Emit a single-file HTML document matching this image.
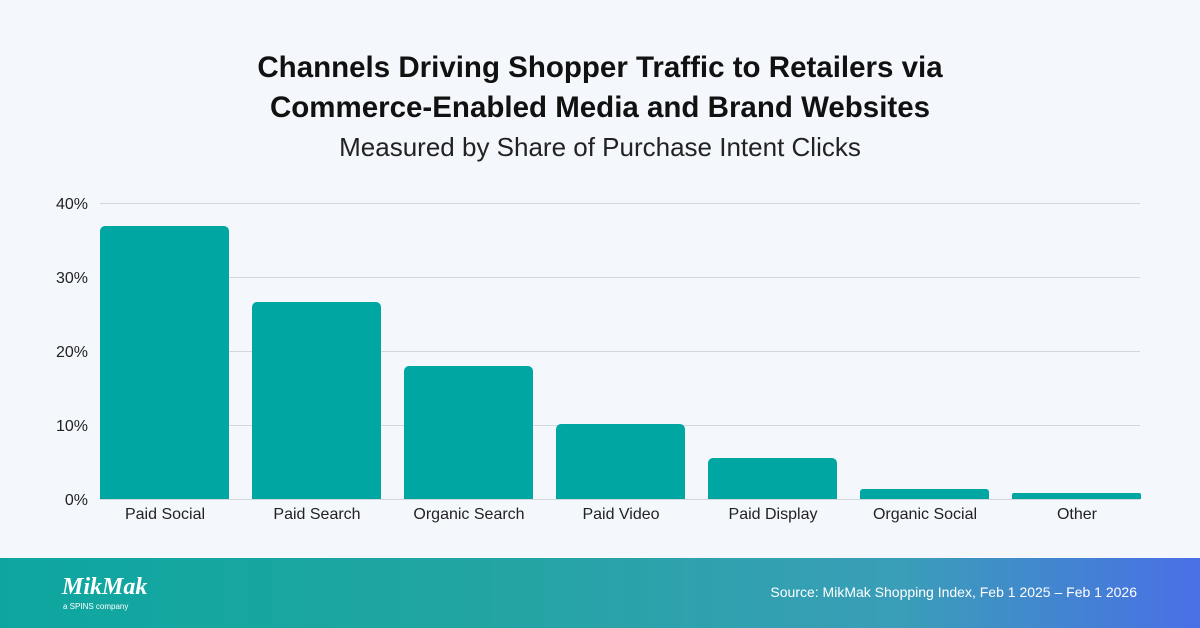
<!DOCTYPE html>
<html><head><style>
body{margin:0;width:1200px;height:628px;background:#f4f8fc;font-family:"Liberation Sans",sans-serif;position:relative;overflow:hidden;color:#111}
.t{position:absolute;left:0;width:1200px;text-align:center}
.grid{position:absolute;left:100px;width:1040px;height:1px;background:#d3d7db}
.yl{position:absolute;left:30px;width:58px;text-align:right;font-size:16px;color:#222}
.bar{position:absolute;width:129px;background:#00a6a1;border-radius:5px 5px 0 0}
.xl{position:absolute;width:152px;text-align:center;font-size:16px;top:506px;color:#222}
.foot{position:absolute;left:0;top:558px;width:1200px;height:70px;background:linear-gradient(90deg,#0da69f 0%,#22a5a2 40%,#3a9eb8 75%,#4a6fe6 100%)}
</style></head><body>
<div class="t" style="top:48px;font-size:29.5px;font-weight:bold;line-height:40px">Channels Driving Shopper Traffic to Retailers via<br>Commerce-Enabled Media and Brand Websites</div>
<div class="t" style="top:132px;font-size:26px;color:#222">Measured by Share of Purchase Intent Clicks</div>
<div class="grid" style="top:203px"></div><div class="grid" style="top:277px"></div><div class="grid" style="top:351px"></div><div class="grid" style="top:425px"></div><div class="grid" style="top:499px"></div>
<div class="yl" style="top:196px">40%</div><div class="yl" style="top:270px">30%</div><div class="yl" style="top:344px">20%</div><div class="yl" style="top:418px">10%</div><div class="yl" style="top:492px">0%</div>
<div class="bar" style="left:100px;top:226px;height:273px"></div>
<div class="bar" style="left:252px;top:302px;height:197px"></div>
<div class="bar" style="left:404px;top:366px;height:133px"></div>
<div class="bar" style="left:556px;top:424px;height:75px"></div>
<div class="bar" style="left:708px;top:458px;height:41px"></div>
<div class="bar" style="left:860px;top:489px;height:10px;border-radius:3px 3px 0 0"></div>
<div class="bar" style="left:1012px;top:493px;height:6px;border-radius:2px 2px 0 0"></div>
<div class="xl" style="left:89px">Paid Social</div>
<div class="xl" style="left:241px">Paid Search</div>
<div class="xl" style="left:393px">Organic Search</div>
<div class="xl" style="left:545px">Paid Video</div>
<div class="xl" style="left:697px">Paid Display</div>
<div class="xl" style="left:849px">Organic Social</div>
<div class="xl" style="left:1001px">Other</div>
<div class="foot">
<div style="position:absolute;left:62px;top:16px;color:#fff;font-size:24px;font-style:italic;font-weight:bold;font-family:'Liberation Serif',serif">MikMak</div>
<div style="position:absolute;left:63px;top:44px;color:#fff;font-size:8px">a SPINS company</div>
<div style="position:absolute;right:63px;top:26px;color:#fff;font-size:14px">Source: MikMak Shopping Index, Feb 1 2025 – Feb 1 2026</div>
</div>
</body></html>
